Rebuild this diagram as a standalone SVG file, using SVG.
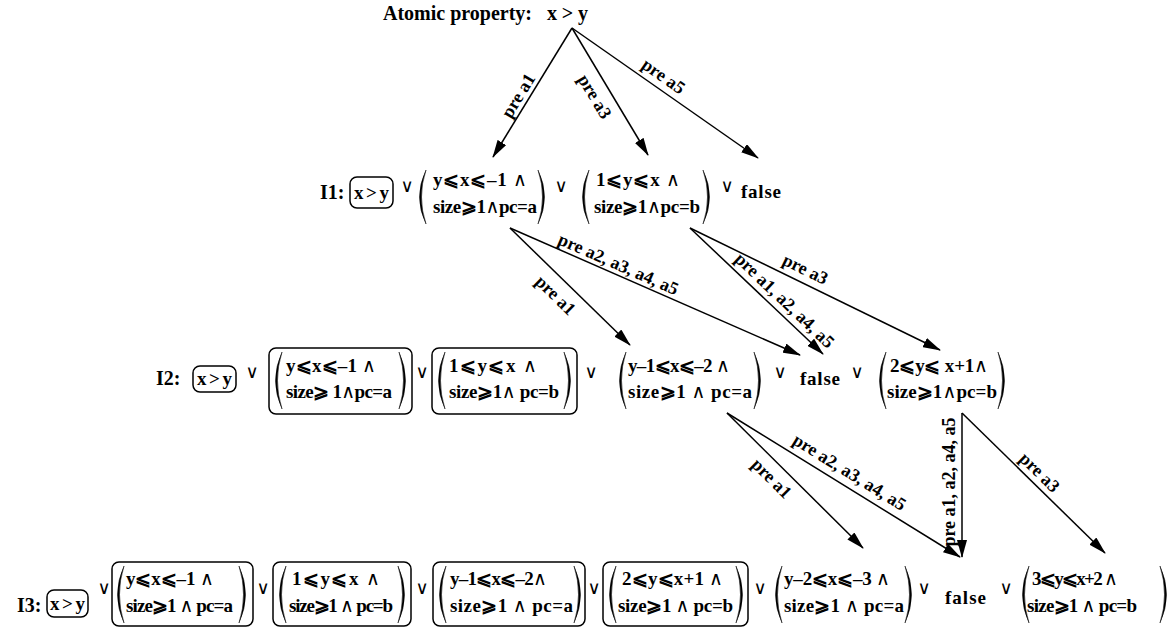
<svg xmlns="http://www.w3.org/2000/svg" width="1173" height="628" viewBox="0 0 1173 628">
<style>
.t{font-family:"Liberation Serif","DejaVu Serif",serif;font-weight:bold;font-size:19px;fill:#000}
.h{font-family:"Liberation Serif","DejaVu Serif",serif;font-weight:bold;font-size:20px;fill:#000}
.w{font-family:"DejaVu Sans",sans-serif;font-weight:normal}
.or{font-family:"DejaVu Sans",sans-serif;font-size:18px;fill:#000;text-anchor:middle}
.lb{font-family:"Liberation Serif","DejaVu Serif",serif;font-weight:bold;font-size:18px;fill:#000;text-anchor:middle}
.bx{fill:none;stroke:#000;stroke-width:1.5}
.pr{fill:#000;stroke:#000;stroke-width:0.5}
.cn line{stroke:#000;stroke-width:1.5;marker-end:url(#ah)}
</style>
<defs>
<marker id="ah" markerWidth="18" markerHeight="10" refX="17" refY="5" orient="auto" markerUnits="userSpaceOnUse"><path d="M0,0 L18,5 L0,10 Z" fill="#000"/></marker>
</defs>
<rect width="1173" height="628" fill="#fff"/>

<g id="atomic">
<text class="h" x="383" y="20" textLength="149" lengthAdjust="spacingAndGlyphs">Atomic property:</text>
<text class="h" x="547" y="20" textLength="41" lengthAdjust="spacing">x&gt;y</text>
</g>

<g id="connectors" class="cn">
<line x1="572" y1="28" x2="493" y2="157"/>
<line x1="572" y1="28" x2="648" y2="155"/>
<line x1="572" y1="28" x2="758" y2="158"/>
<line x1="510" y1="228" x2="630" y2="345"/>
<line x1="510" y1="228" x2="800" y2="355"/>
<line x1="690" y1="228" x2="823" y2="354"/>
<line x1="690" y1="228" x2="940" y2="350"/>
<line x1="727" y1="413" x2="863" y2="548"/>
<line x1="727" y1="413" x2="960" y2="557"/>
<line x1="962" y1="413" x2="962" y2="557"/>
<line x1="962" y1="413" x2="1105" y2="553"/>
</g>
<g id="connector-labels">
<text class="lb" transform="translate(519,96) rotate(-58.5)" y="5">pre a1</text>
<text class="lb" transform="translate(594,97) rotate(59.1)" y="5">pre a3</text>
<text class="lb" transform="translate(663,77) rotate(35)" y="5">pre a5</text>
<text class="lb" transform="translate(555,296) rotate(44.3)" y="5">pre a1</text>
<text class="lb" transform="translate(618,265) rotate(23.6)" y="5">pre a2, a3, a4, a5</text>
<text class="lb" transform="translate(784,301) rotate(43.5)" y="5">pre a1, a2, a4, a5</text>
<text class="lb" transform="translate(805,270) rotate(26)" y="5">pre a3</text>
<text class="lb" transform="translate(771,479) rotate(44.8)" y="5">pre a1</text>
<text class="lb" transform="translate(849,473) rotate(31.7)" y="5">pre a2, a3, a4, a5</text>
<text class="lb" transform="translate(950,482) rotate(-90)" y="5">pre a1, a2, a4, a5</text>
<text class="lb" transform="translate(1039,473) rotate(44.4)" y="5">pre a3</text>
</g>

<!-- I1 -->
<g id="I1-label"><text class="h" x="320" y="199">I1:</text></g>
<g id="I1-xy"><rect class="bx" x="350" y="177" width="43" height="31" rx="7"/><text class="t" x="354" y="199" textLength="35" lengthAdjust="spacing">x&gt;y</text></g>
<g id="I1-ops">
<text class="or" x="407" y="192">∨</text>
<text class="or" x="561" y="192">∨</text>
<text class="or" x="727" y="192">∨</text>
</g>
<g id="I1-a">
<path class="pr" d="M426,170 Q413,197 426,224 Q417,197 426,170 Z"/>
<text class="t" x="433" y="186" textLength="94" lengthAdjust="spacing">y⩽x⩽–1  <tspan class="w">∧</tspan></text>
<text class="t" x="433" y="213" textLength="104" lengthAdjust="spacing">size⩾1<tspan class="w">∧</tspan>pc=a</text>
<path class="pr" d="M538,170 Q551,197 538,224 Q547,197 538,170 Z"/>
</g>
<g id="I1-b">
<path class="pr" d="M589,170 Q576,197 589,224 Q580,197 589,170 Z"/>
<text class="t" x="596" y="186" textLength="84" lengthAdjust="spacing">1⩽y⩽x  <tspan class="w">∧</tspan></text>
<text class="t" x="594" y="213" textLength="106" lengthAdjust="spacing">size⩾1<tspan class="w">∧</tspan>pc=b</text>
<path class="pr" d="M703,170 Q716,197 703,224 Q712,197 703,170 Z"/>
</g>
<g id="I1-false"><text class="t" x="741" y="198" textLength="40" lengthAdjust="spacing">false</text></g>

<!-- I2 -->
<g id="I2-label"><text class="h" x="156" y="385">I2:</text></g>
<g id="I2-xy"><rect class="bx" x="193" y="366" width="43" height="26" rx="7"/><text class="t" x="197" y="385" textLength="35" lengthAdjust="spacing">x&gt;y</text></g>
<g id="I2-ops">
<text class="or" x="252" y="378">∨</text>
<text class="or" x="422" y="378">∨</text>
<text class="or" x="591" y="378">∨</text>
<text class="or" x="780" y="378">∨</text>
<text class="or" x="857" y="378">∨</text>
</g>
<g id="I2-a">
<rect class="bx" x="269" y="348" width="143" height="66" rx="7"/>
<path class="pr" d="M282,352 Q269,380.5 282,409 Q273,380.5 282,352 Z"/>
<text class="t" x="286" y="372" textLength="90" lengthAdjust="spacing">y⩽x⩽–1  <tspan class="w">∧</tspan></text>
<text class="t" x="286" y="398" textLength="106" lengthAdjust="spacing">size⩾ 1<tspan class="w">∧</tspan>pc=a</text>
<path class="pr" d="M399,352 Q412,380.5 399,409 Q408,380.5 399,352 Z"/>
</g>
<g id="I2-b">
<rect class="bx" x="432" y="348" width="145" height="66" rx="7"/>
<path class="pr" d="M445,352 Q432,380.5 445,409 Q436,380.5 445,352 Z"/>
<text class="t" x="449" y="372" textLength="88" lengthAdjust="spacing">1⩽y⩽x  <tspan class="w">∧</tspan></text>
<text class="t" x="449" y="398" textLength="110" lengthAdjust="spacing">size⩾1<tspan class="w">∧</tspan> pc=b</text>
<path class="pr" d="M564,352 Q577,380.5 564,409 Q573,380.5 564,352 Z"/>
</g>
<g id="I2-c">
<path class="pr" d="M626,352 Q613,380.5 626,409 Q617,380.5 626,352 Z"/>
<text class="t" x="628" y="372" textLength="102" lengthAdjust="spacing">y–1⩽x⩽–2 <tspan class="w">∧</tspan></text>
<text class="t" x="628" y="398" textLength="124" lengthAdjust="spacing">size⩾1  <tspan class="w">∧</tspan>  pc=a</text>
<path class="pr" d="M754,352 Q767,380.5 754,409 Q763,380.5 754,352 Z"/>
</g>
<g id="I2-false"><text class="t" x="800" y="385" textLength="40" lengthAdjust="spacing">false</text></g>
<g id="I2-d">
<path class="pr" d="M886,352 Q873,380.5 886,409 Q877,380.5 886,352 Z"/>
<text class="t" x="890" y="372" textLength="98" lengthAdjust="spacing">2⩽y⩽ x+1<tspan class="w">∧</tspan></text>
<text class="t" x="887" y="398" textLength="110" lengthAdjust="spacing">size⩾1<tspan class="w">∧</tspan>pc=b</text>
<path class="pr" d="M998,352 Q1011,380.5 998,409 Q1007,380.5 998,352 Z"/>
</g>

<!-- I3 -->
<g id="I3-label"><text class="h" x="17" y="612">I3:</text></g>
<g id="I3-xy"><rect class="bx" x="47" y="590" width="41" height="27" rx="7"/><text class="t" x="50" y="610" textLength="35" lengthAdjust="spacing">x&gt;y</text></g>
<g id="I3-ops">
<text class="or" x="104" y="594">∨</text>
<text class="or" x="263" y="594">∨</text>
<text class="or" x="422" y="594">∨</text>
<text class="or" x="594" y="594">∨</text>
<text class="or" x="760" y="594">∨</text>
<text class="or" x="924" y="594">∨</text>
<text class="or" x="1006" y="594">∨</text>
</g>
<g id="I3-a">
<rect class="bx" x="112" y="562" width="141" height="64" rx="7"/>
<path class="pr" d="M124,566 Q111,594.5 124,623 Q115,594.5 124,566 Z"/>
<text class="t" x="126" y="585" textLength="88" lengthAdjust="spacing">y⩽x⩽–1 <tspan class="w">∧</tspan></text>
<text class="t" x="126" y="612" textLength="107" lengthAdjust="spacing">size⩾1 <tspan class="w">∧</tspan> pc=a</text>
<path class="pr" d="M239,566 Q252,594.5 239,623 Q248,594.5 239,566 Z"/>
</g>
<g id="I3-b">
<rect class="bx" x="273" y="562" width="138" height="64" rx="7"/>
<path class="pr" d="M286,566 Q273,594.5 286,623 Q277,594.5 286,566 Z"/>
<text class="t" x="292" y="585" textLength="88" lengthAdjust="spacing">1⩽y⩽x  <tspan class="w">∧</tspan></text>
<text class="t" x="289" y="612" textLength="104" lengthAdjust="spacing">size⩾1 <tspan class="w">∧</tspan> pc=b</text>
<path class="pr" d="M398,566 Q411,594.5 398,623 Q407,594.5 398,566 Z"/>
</g>
<g id="I3-c">
<rect class="bx" x="433" y="562" width="152" height="64" rx="7"/>
<path class="pr" d="M446,566 Q433,594.5 446,623 Q437,594.5 446,566 Z"/>
<text class="t" x="450" y="585" textLength="97" lengthAdjust="spacing">y–1⩽x⩽–2<tspan class="w">∧</tspan></text>
<text class="t" x="450" y="612" textLength="123" lengthAdjust="spacing">size⩾1  <tspan class="w">∧</tspan>  pc=a</text>
<path class="pr" d="M574,566 Q587,594.5 574,623 Q583,594.5 574,566 Z"/>
</g>
<g id="I3-d">
<rect class="bx" x="603" y="562" width="145" height="64" rx="7"/>
<path class="pr" d="M616,566 Q603,594.5 616,623 Q607,594.5 616,566 Z"/>
<text class="t" x="622" y="585" textLength="101" lengthAdjust="spacing">2⩽y⩽x+1 <tspan class="w">∧</tspan></text>
<text class="t" x="618" y="612" textLength="115" lengthAdjust="spacing">size⩾1  <tspan class="w">∧</tspan>  pc=b</text>
<path class="pr" d="M736,566 Q749,594.5 736,623 Q745,594.5 736,566 Z"/>
</g>
<g id="I3-e">
<path class="pr" d="M782,566 Q769,594.5 782,623 Q773,594.5 782,566 Z"/>
<text class="t" x="784" y="585" textLength="106" lengthAdjust="spacing">y–2⩽x⩽–3 <tspan class="w">∧</tspan></text>
<text class="t" x="784" y="612" textLength="120" lengthAdjust="spacing">size⩾1 <tspan class="w">∧</tspan>  pc=a</text>
<path class="pr" d="M905,566 Q918,594.5 905,623 Q914,594.5 905,566 Z"/>
</g>
<g id="I3-false"><text class="t" x="945" y="604" textLength="41" lengthAdjust="spacing">false</text></g>
<g id="I3-f">
<path class="pr" d="M1029,566 Q1016,594.5 1029,623 Q1020,594.5 1029,566 Z"/>
<text class="t" x="1032" y="585" textLength="86" lengthAdjust="spacing">3⩽y⩽x+2 <tspan class="w">∧</tspan></text>
<text class="t" x="1027" y="612" textLength="110" lengthAdjust="spacing">size⩾1 <tspan class="w">∧</tspan> pc=b</text>
<path class="pr" d="M1160,566 Q1173,594.5 1160,623 Q1169,594.5 1160,566 Z"/>
</g>
</svg>
